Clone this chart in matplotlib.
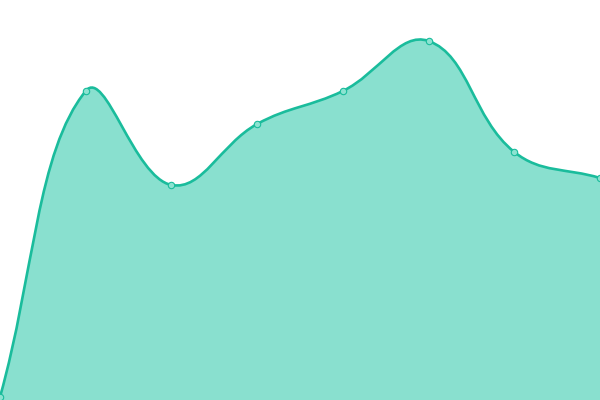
import numpy as np
import matplotlib
matplotlib.use('Agg')
import matplotlib.pyplot as plt
from matplotlib.path import Path
from matplotlib.patches import PathPatch

# Data
xs     = [0, 1, 2, 3, 4, 5, 6, 7]
values = [0, 306, 212, 273, 306, 356, 245, 219]

# Style
line_color = '#1abc9c'
fill_color = '#89e0cf'
tension    = 0.4

fig = plt.figure(figsize=(6, 4), dpi=100)
ax = fig.add_axes([0, 0, 1, 1])
ax.set_xlim(0, 7)
ax.set_ylim(-3, 397)
ax.axis('off')

# work in pixel space so the spline behaves like a canvas spline
trans = ax.transData
pts = trans.transform(np.column_stack([xs, values]))
n = len(pts)
ctrl_prev = np.zeros_like(pts)
ctrl_next = np.zeros_like(pts)
for i in range(n):
    p1 = pts[i]
    p0 = pts[i - 1] if i > 0 else p1
    p2 = pts[i + 1] if i < n - 1 else p1
    d01 = np.hypot(*(p1 - p0))
    d12 = np.hypot(*(p2 - p1))
    tot = d01 + d12
    s01 = d01 / tot if tot else 0
    s12 = d12 / tot if tot else 0
    ctrl_prev[i] = p1 - tension * s01 * (p2 - p0)
    ctrl_next[i] = p1 + tension * s12 * (p2 - p0)

verts = [pts[0]]
codes = [Path.MOVETO]
for i in range(n - 1):
    verts += [ctrl_next[i], ctrl_prev[i + 1], pts[i + 1]]
    codes += [Path.CURVE4] * 3
verts = trans.inverted().transform(np.array(verts))

line_path = Path(verts, codes)
fill_verts = np.vstack([verts, [[xs[-1], -3], [xs[0], -3], verts[0]]])
fill_codes = codes + [Path.LINETO, Path.LINETO, Path.CLOSEPOLY]
fill_path = Path(fill_verts, fill_codes)

ax.add_patch(PathPatch(fill_path, facecolor=fill_color, edgecolor='none', zorder=1))
ax.add_patch(PathPatch(line_path, facecolor='none', edgecolor=line_color, lw=1.9, zorder=2))
ax.plot(xs, values, 'o', ms=4.6, mfc='#8ce3d1', mec=line_color, mew=0.8, zorder=3, clip_on=False)

fig.savefig('out.png', dpi=100)
